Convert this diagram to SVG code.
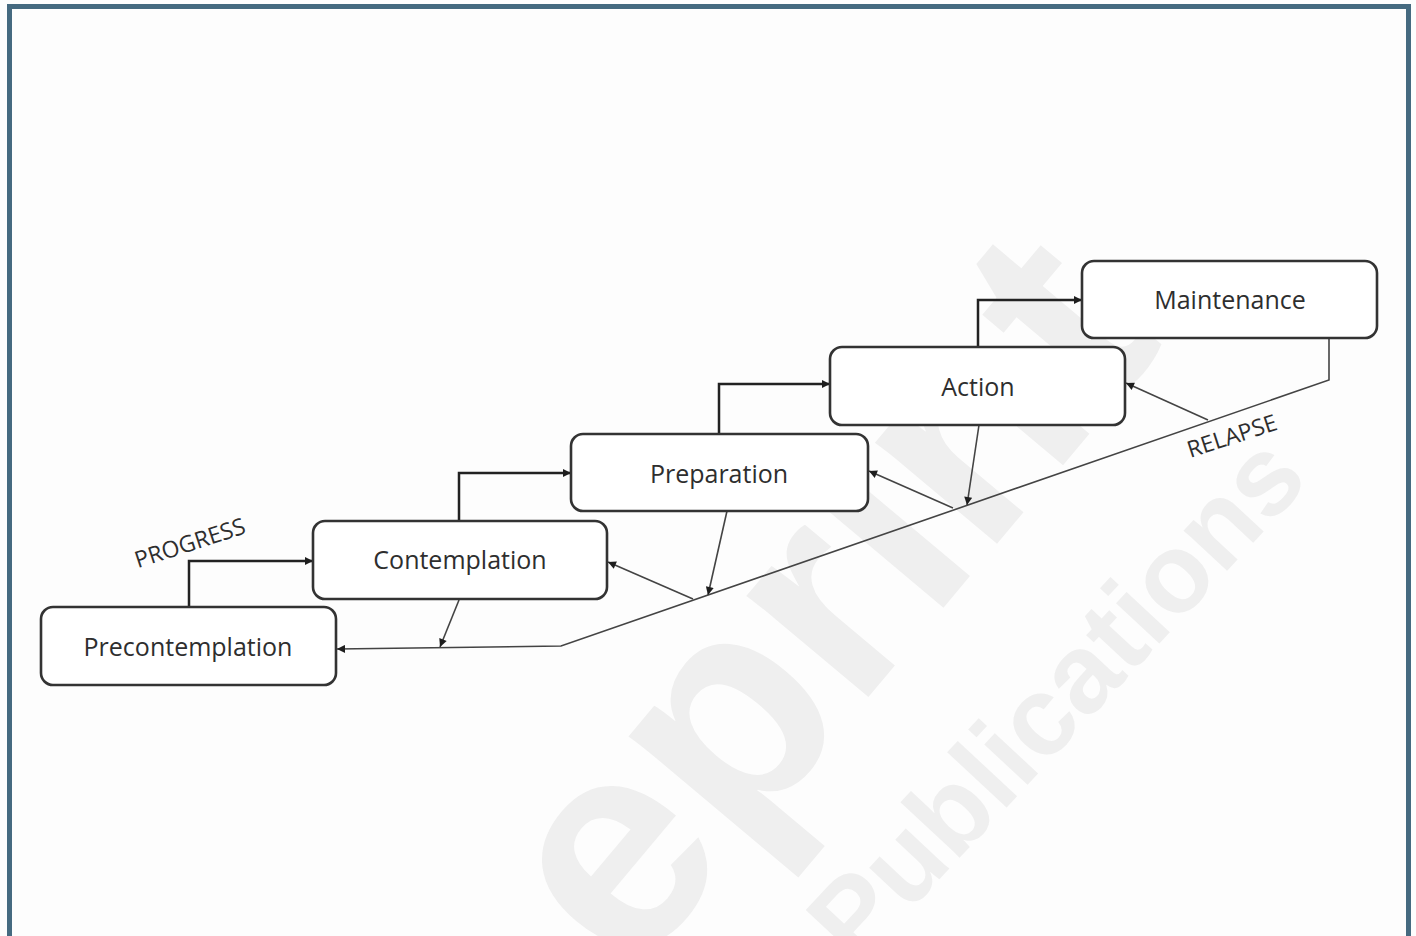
<svg xmlns="http://www.w3.org/2000/svg" width="1416" height="936" viewBox="0 0 1416 936">
<defs>
<marker id="ah" viewBox="0 0 10 10" refX="10" refY="5" markerWidth="9" markerHeight="8" markerUnits="userSpaceOnUse" orient="auto">
<path d="M0,0 L10,5 L0,10 z" fill="#1e1e1e"/>
</marker>
<style>
.box{fill:#ffffff;stroke:#333333;stroke-width:2.6}
.lbl{font-family:"Open Sans","Noto Sans",sans-serif;font-size:25px;fill:#2e2e2e;text-anchor:middle}
.side{font-family:"Open Sans","Noto Sans",sans-serif;font-size:23px;fill:#2e2e2e;text-anchor:middle}
.prog{fill:none;stroke:#222222;stroke-width:2.5}
.rel{fill:none;stroke:#444444;stroke-width:1.6}
.wm{font-family:"Liberation Sans",Arial,sans-serif;font-weight:bold;fill:#efefef;text-anchor:middle}
</style>
</defs>
<rect x="0" y="0" width="1416" height="936" fill="#fdfdfd"/>
<g id="watermark">
<text class="wm" font-size="300" transform="translate(838,612) rotate(-50)" y="78">eprint</text>
<text class="wm" font-size="112" transform="translate(1062,704) rotate(-47)" y="30">Publications</text>
</g>
<rect x="9.5" y="6.5" width="1399" height="960" fill="none" stroke="#456a80" stroke-width="5"/>
<g id="connectors">
<path class="prog" d="M189,607 V561 H313" marker-end="url(#ah)"/>
<path class="prog" d="M459,521 V473 H571" marker-end="url(#ah)"/>
<path class="prog" d="M719,434 V384 H830" marker-end="url(#ah)"/>
<path class="prog" d="M978,347 V300 H1082" marker-end="url(#ah)"/>
<path class="rel" d="M1329,338 V380 L561,646 L337,649" marker-end="url(#ah)"/>
<path class="rel" d="M1208,420 L1126,383" marker-end="url(#ah)"/>
<path class="rel" d="M953,508 L869,471" marker-end="url(#ah)"/>
<path class="rel" d="M693,599 L608,562" marker-end="url(#ah)"/>
<path class="rel" d="M979,425 L967,505" marker-end="url(#ah)"/>
<path class="rel" d="M727,511 L708,595" marker-end="url(#ah)"/>
<path class="rel" d="M459,600 L440,647" marker-end="url(#ah)"/>
</g>
<g id="precontemplation">
<rect class="box" x="41" y="607" width="295" height="78" rx="12"/>
<text class="lbl" x="188" y="656">Precontemplation</text>
</g>
<g id="contemplation">
<rect class="box" x="313" y="521" width="294" height="78" rx="12"/>
<text class="lbl" x="460" y="569">Contemplation</text>
</g>
<g id="preparation">
<rect class="box" x="571" y="434" width="297" height="77" rx="12"/>
<text class="lbl" x="719" y="483">Preparation</text>
</g>
<g id="action">
<rect class="box" x="830" y="347" width="295" height="78" rx="12"/>
<text class="lbl" x="978" y="396">Action</text>
</g>
<g id="maintenance">
<rect class="box" x="1082" y="261" width="295" height="77" rx="12"/>
<text class="lbl" x="1230" y="309">Maintenance</text>
</g>
<g id="labels">
<text class="side" transform="translate(190,543) rotate(-18)" y="8">PROGRESS</text>
<text class="side" transform="translate(1232,436) rotate(-18)" y="8">RELAPSE</text>
</g>
</svg>
